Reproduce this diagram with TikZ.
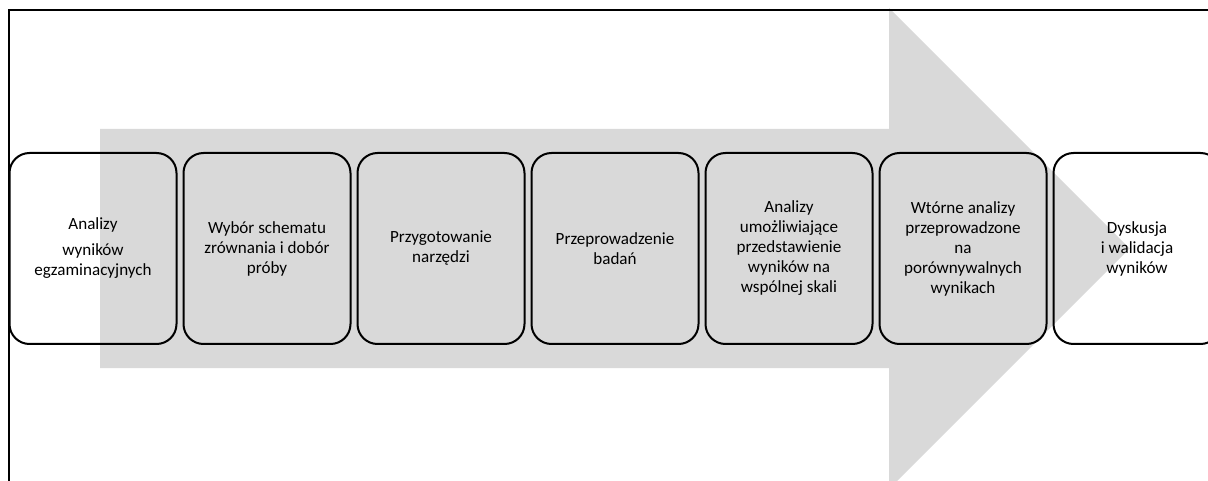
\documentclass[tikz,border=0pt]{standalone}
\usepackage{fontspec}
\setmainfont{Carlito}
\usetikzlibrary{positioning}

\begin{document}
\begin{tikzpicture}[
			x = 0.75pt, y = -0.75pt,
			every node/.style = {font = \fontsize{12.8}{15}\selectfont},
			stepbox/.style = {draw, line width = 1.5pt, rounded corners = 15pt,
				minimum width = 125.25pt, minimum height = 143.25pt,
				outer sep = 0pt, inner sep = 1pt, align = center},
			node distance = 5.25pt
			]

			\useasboundingbox (0,0) rectangle (1208,481);
			\clip (0,0) rectangle (1208,481);

			% grey arrow in the background
			\fill[gray!30] (100,129) -- (889,129) -- (889,8) -- (1129.5,248.5)
				-- (889,489) -- (889,368) -- (100,368) -- cycle;

			% frame
			\draw[line width = 1.5pt] (8.5,481) -- (8.5,10) -- (1208,10);

			% steps
			\node[stepbox] (analizy) at (93,248.5)
				{Analizy\\[4.5pt] wyników\\ egzaminacyjnych};
			\node[stepbox, right = of analizy] (schemat)
				{Wybór schematu\\ zrównania i dobór\\ próby};
			\node[stepbox, right = of schemat] (narzedzia)
				{Przygotowanie\\ narzędzi};
			\node[stepbox, right = of narzedzia] (badania)
				{Przeprowadzenie\\ badań};
			\node[stepbox, right = of badania] (skala)
				{Analizy\\ umożliwiające\\ przedstawienie\\ wyników na\\ wspólnej skali};
			\node[stepbox, right = of skala] (wtorne)
				{Wtórne analizy\\ przeprowadzone\\ na\\ porównywalnych\\ wynikach};
			\node[stepbox, right = of wtorne] (walidacja)
				{Dyskusja\\ i walidacja\\ wyników};

		\end{tikzpicture}
\end{document}
